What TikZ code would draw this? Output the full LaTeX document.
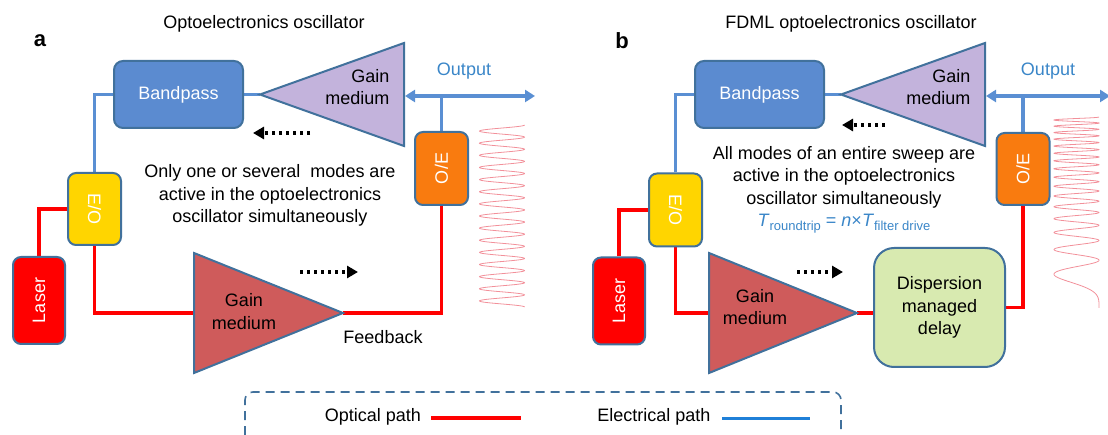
\documentclass[tikz,border=0pt]{standalone}
\usepackage{fontspec}
\setmainfont{Liberation Sans}
\usetikzlibrary{arrows.meta}
\definecolor{bord}{HTML}{41719C}
\definecolor{bpfill}{HTML}{5B8BD0}
\definecolor{eline}{HTML}{5A8FD3}
\definecolor{oline}{HTML}{FF0000}
\definecolor{eofill}{HTML}{FFD500}
\definecolor{oefill}{HTML}{F97B0F}
\definecolor{laserfill}{HTML}{FF0000}
\definecolor{purp}{HTML}{C3B3DC}
\definecolor{redtri}{HTML}{CF5B5B}
\definecolor{dmfill}{HTML}{D8EAB0}
\definecolor{outtext}{HTML}{3A86C8}
\definecolor{wavecol}{HTML}{F2909A}
\definecolor{legblue}{HTML}{1F80D8}
\pgfdeclarelayer{background}
\pgfsetlayers{background,main}
\begin{document}
\begin{tikzpicture}[x=1pt,y=-1pt,
  font=\fontsize{18}{22.5}\selectfont,
  box/.style={draw=bord, line width=2pt, rounded corners=9pt, inner sep=0pt},
  tri/.style={draw=bord, line width=2pt, line join=miter},
  elec/.style={draw=eline, line width=3.2pt},
  opt/.style={draw=oline, line width=3.2pt},
  vlabel/.style={text=white},
  flow/.style={line width=3.2pt, dash pattern=on 3.2pt off 3.8pt, -{Triangle[length=11pt,width=12pt]}},
  outarrow/.style={draw=eline, line width=3.2pt, {Triangle[length=10pt,width=12pt]}-{Triangle[length=10pt,width=12pt]}},
  wave/.style={draw=wavecol, line width=0.8pt},
  panel/.style={font=\fontsize{22}{22}\selectfont\bfseries}]
\useasboundingbox (0,0) rectangle (1108,435);

% ---------------- Panel a ----------------
\node[panel] (la) at (40,41) {a};
\node (titlea) at (264,24) {Optoelectronics oscillator};

\node[box, fill=bpfill, minimum width=129pt, minimum height=67pt, text=white] (bpa) at (178.5,94.5) {Bandpass};
\coordinate (pa-apex) at (260,94.5);
\coordinate (pa-top) at (404,43);
\coordinate (pa-bot) at (404,146);
\draw[tri, fill=purp] (pa-apex) -- (pa-top) -- (pa-bot) -- cycle;
\node[anchor=east, align=right] (gma) at (393,87) {Gain\\medium};

\node[box, fill=eofill, minimum width=53pt, minimum height=72pt, rounded corners=8pt] (eoa) at (94.5,209) {};
\node[vlabel, rotate=-90] (eoat) at (eoa.center) {E/O};
\node[box, fill=laserfill, minimum width=52pt, minimum height=87pt, rounded corners=8pt] (lasa) at (39,300.5) {};
\node[vlabel, rotate=90] (lasat) at (lasa.center) {Laser};
\node[box, fill=oefill, minimum width=53pt, minimum height=73pt, rounded corners=8pt] (oea) at (441.5,168.5) {};
\node[vlabel, rotate=90] (oeat) at (oea.center) {O/E};

\coordinate (ga-top) at (194,253);
\coordinate (ga-bot) at (194,373);
\coordinate (ga-in) at (194,313);
\coordinate (ga-apex) at (343,313);
\draw[tri, fill=redtri] (ga-top) -- (ga-apex) -- (ga-bot) -- cycle;
\node[align=center] (gta) at (244,311.5) {Gain\\medium};

\coordinate (outa-l) at (405,96);
\coordinate (outa-r) at (535,96);
\node[text=outtext] (outlabela) at (464,71) {Output};
\node (fb) at (383,337) {Feedback};

\node[align=center] (txta) at (270,195.5) {Only one or several~ modes are\\active in the optoelectronics\\oscillator simultaneously};

\coordinate (fla-s) at (310,133);
\coordinate (fla-e) at (253,133);
\draw[flow] (fla-s) -- (fla-e);
\coordinate (fra-s) at (300,272);
\coordinate (fra-e) at (358,272);
\draw[flow] (fra-s) -- (fra-e);

\begin{pgfonlayer}{background}
\draw[elec] (bpa.east) -- (pa-apex);
\draw[elec] (eoa.north) |- (bpa.west);
\draw[outarrow] (outa-l) -- (outa-r);
\draw[elec] (oea.north) -- (oea.north |- outa-l);
\draw[opt] (lasa.north) |- (eoa.west);
\draw[opt] (eoa.south) |- (ga-in);
\draw[opt] (ga-apex) -| (oea.south);
\end{pgfonlayer}

\draw[wave] plot[domain=125:307, samples=600] ({502+22.5*cos((\x-125)*29.67)}, \x);

% ---------------- Panel b ----------------
\node[panel] (lb) at (622,41) {b};
\node (titleb) at (851,24) {FDML optoelectronics oscillator};

\node[box, fill=bpfill, minimum width=129pt, minimum height=67pt, text=white] (bpb) at (759.5,94.5) {Bandpass};
\coordinate (pb-apex) at (841,94.5);
\coordinate (pb-top) at (985,43);
\coordinate (pb-bot) at (985,146);
\draw[tri, fill=purp] (pb-apex) -- (pb-top) -- (pb-bot) -- cycle;
\node[anchor=east, align=right] (gmb) at (974,87) {Gain\\medium};

\node[box, fill=eofill, minimum width=53pt, minimum height=73pt, rounded corners=8pt] (eob) at (675.5,210) {};
\node[vlabel, rotate=-90] (eobt) at (eob.center) {E/O};
\node[box, fill=laserfill, minimum width=52pt, minimum height=87pt, rounded corners=8pt] (lasb) at (619,301) {};
\node[vlabel, rotate=90] (lasbt) at (lasb.center) {Laser};
\node[box, fill=oefill, minimum width=53pt, minimum height=72pt, rounded corners=8pt] (oeb) at (1023,169) {};
\node[vlabel, rotate=90] (oebt) at (oeb.center) {O/E};

\coordinate (gb-top) at (709,253);
\coordinate (gb-bot) at (709,373);
\coordinate (gb-in) at (709,313);
\coordinate (gb-apex) at (857,313);
\draw[tri, fill=redtri] (gb-top) -- (gb-apex) -- (gb-bot) -- cycle;
\node[align=center] (gtb) at (755,307) {Gain\\medium};

\node[box, fill=dmfill, minimum width=131pt, minimum height=119pt, rounded corners=20pt, align=center] (dmd) at (939.5,307.5) {Dispersion\\managed\\delay};

\coordinate (outb-l) at (986,96);
\coordinate (outb-r) at (1110,96);
\node[text=outtext] (outlabelb) at (1048,71) {Output};

\node[align=center] (txtb) at (844,177) {All modes of an entire sweep are\\active in the optoelectronics\\oscillator simultaneously};
\node[text=outtext] (formula) at (844,224) {\textit{T}\raisebox{-4pt}{\fontsize{13}{13}\selectfont roundtrip} = \textit{n}×\textit{T}\raisebox{-4pt}{\fontsize{13}{13}\selectfont filter drive}};

\coordinate (flb-s) at (885,125);
\coordinate (flb-e) at (842,125);
\draw[flow] (flb-s) -- (flb-e);
\coordinate (frb-s) at (797,272);
\coordinate (frb-e) at (843,272);
\draw[flow] (frb-s) -- (frb-e);

\begin{pgfonlayer}{background}
\draw[elec] (bpb.east) -- (pb-apex);
\draw[elec] (eob.north) |- (bpb.west);
\draw[outarrow] (outb-l) -- (outb-r);
\draw[elec] (oeb.north) -- (oeb.north |- outb-l);
\draw[opt] (lasb.north) |- (eob.west);
\draw[opt] (eob.south) |- (gb-in);
\draw[opt] (gb-apex) -- (dmd.west |- gb-apex);
\draw[opt] (dmd.east) -| (oeb.south);
\end{pgfonlayer}

\draw[wave] plot[domain=117:308, samples=1200] ({1076.5+22.5*cos(5760*(1-(1-(\x-117)/191)^2))}, \x);

% ---------------- Legend ----------------
\draw[draw=bord, line width=1.6pt, dash pattern=on 9pt off 6pt, rounded corners=8pt] (245,435) -- (245,392) -- (841,392) -- (841,435);
\node (legopt) at (373,417) {Optical path};
\coordinate (legopt-a) at (431,418);
\coordinate (legopt-b) at (521,418);
\draw[opt] (legopt-a) -- (legopt-b);
\node (legel) at (654,417) {Electrical path};
\coordinate (legel-a) at (722,418);
\coordinate (legel-b) at (810,418);
\draw[draw=legblue, line width=3pt] (legel-a) -- (legel-b);
\end{tikzpicture}
\end{document}
